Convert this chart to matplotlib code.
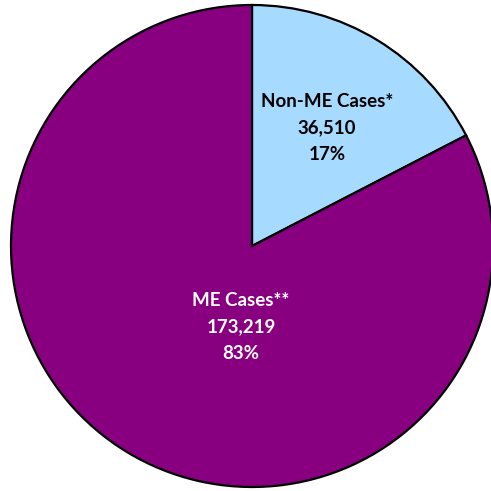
import matplotlib
matplotlib.use("Agg")
import matplotlib.pyplot as plt

# ── Data ─────────────────────────────────────────────────────────────────────
labels = ["Non-ME Cases*", "ME Cases**"]
counts = [36510, 173219]
percents = [17, 83]
colors = ["#A6DAFF", "#880080"]
text_colors = ["black", "white"]

# ── Figure ───────────────────────────────────────────────────────────────────
fig = plt.figure(figsize=(4.91, 4.91), dpi=100)
ax = fig.add_axes([0, 0, 1, 1])

ax.pie(
    counts,
    colors=colors,
    startangle=90,
    counterclock=False,
    center=(252, 245),
    radius=241,
    wedgeprops=dict(edgecolor="black", linewidth=1.6),
)
ax.set_xlim(0, 491)
ax.set_ylim(0, 491)
ax.set_aspect("equal")
ax.axis("off")

# label centres (pixel coords, y from bottom)
label_pos = [(327, 363), (241, 164)]
for lab, c, p, tc, (x, y) in zip(labels, counts, percents, text_colors, label_pos):
    ax.text(x, y, f"{lab}\n{c:,}\n{p}%", ha="center", va="center",
            color=tc, fontsize=13.5, fontweight="bold", family="Lato",
            linespacing=1.65)

fig.savefig("out.png", dpi=100)
